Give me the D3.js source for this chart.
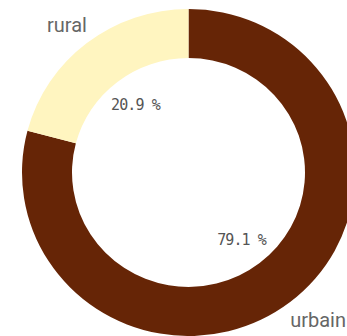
<!DOCTYPE html>
<html>
<head>
<meta charset="utf-8">
<script src="https://cdn.jsdelivr.net/npm/d3@7"></script>
<style>
  body { margin: 0; background: #fff; }
  svg { display: block; }
</style>
</head>
<body>
<div id="chart"></div>
<script>
// données
const categories = ['urbain', 'rural']
const valeurs = [79.1, 20.9]
const couleurs = ['#662506', '#fff5c0']

let width = 347, height = 336
let cx = 188.5, cy = 172.5
let rOut = 166.5, rIn = 116.5, ky = 0.982

let svg = d3.select('#chart')
    .append('svg')
    .attr('width', width)
    .attr('height', height)

let data = categories.map((c, i) => ({ cat: c, val: valeurs[i], col: couleurs[i] }))

let pie = d3.pie()
    .sort(null)
    .value(d => d.val)

let arcs = pie(data)

let arc = d3.arc().innerRadius(rIn).outerRadius(rOut)
let arcPct = d3.arc().innerRadius(87).outerRadius(87)
// x des étiquettes sur le bord extérieur, y un peu plus loin
let arcLabX = d3.arc().innerRadius(rOut).outerRadius(rOut)
let arcLabY = d3.arc().innerRadius(190).outerRadius(190)

let g = svg.append('g')
    .attr('transform', 'translate(' + cx + ',' + cy + ')')

// anneau
g.append('g')
    .attr('transform', 'scale(1,' + ky + ')')
    .selectAll('path')
    .data(arcs)
    .join('path')
    .attr('d', arc)
    .attr('fill', d => d.data.col)

// pourcentages
g.selectAll('text.pct')
    .data(arcs)
    .join('text')
    .attr('class', 'pct')
    .attr('x', d => arcPct.centroid(d)[0])
    .attr('y', d => arcPct.centroid(d)[1] * ky)
    .attr('dy', '0.35em')
    .attr('text-anchor', 'middle')
    .style('font-family', '"DejaVu Sans Mono", monospace')
    .style('font-size', '15px')
    .style('letter-spacing', '-0.9px')
    .style('fill', '#555')
    .text(d => d3.format('.1f')(d.data.val) + ' %')

// étiquettes
g.selectAll('text.lab')
    .data(arcs)
    .join('text')
    .attr('class', 'lab')
    .attr('x', d => arcLabX.centroid(d)[0])
    .attr('y', d => arcLabY.centroid(d)[1] * ky)
    .attr('dy', '0.35em')
    .attr('text-anchor', d => arcLabX.centroid(d)[0] < 0 ? 'end' : 'start')
    .style('font-family', 'Roboto, sans-serif')
    .style('font-size', '20px')
    .style('fill', '#666')
    .text(d => d.data.cat)
</script>
</body>
</html>
